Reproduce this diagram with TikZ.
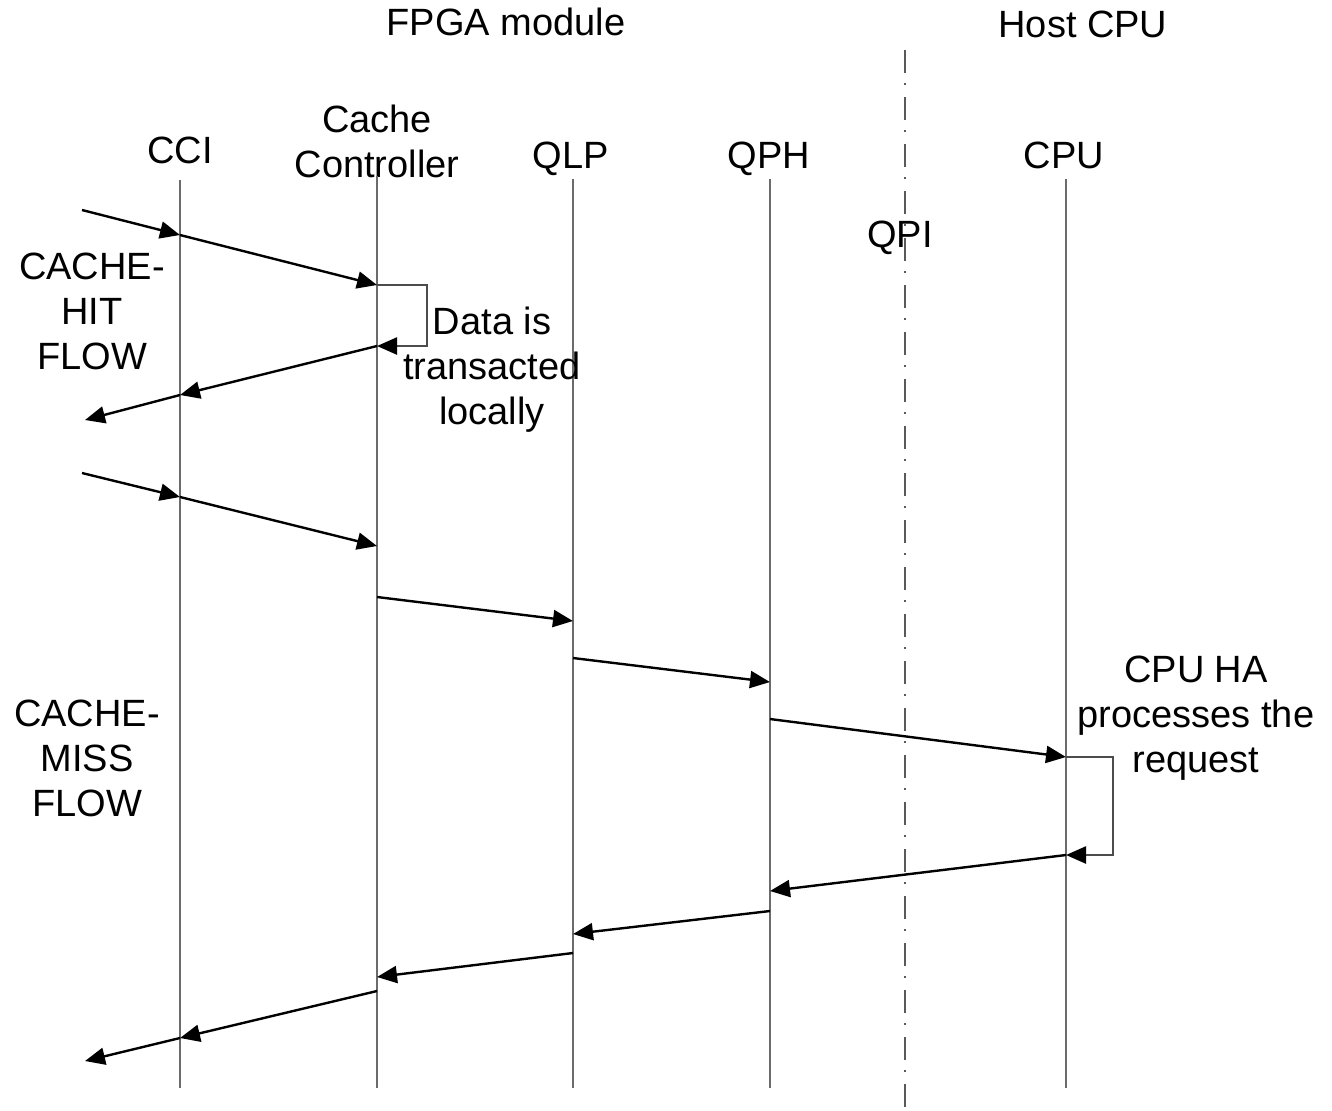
\documentclass[tikz,border=0pt]{standalone}
\usepackage{fontspec}
\setmainfont{Liberation Sans}
\usetikzlibrary{arrows.meta}
\begin{document}
\begin{tikzpicture}[x=0.5pt,y=-0.5pt,
  tip/.style={-{Triangle[length=10pt,width=8.5pt,color=black]}},
  life/.style={draw=black!58, line width=1.2pt},
  msg/.style={draw=black, line width=1.2pt, tip},
  selfloop/.style={draw=black!70, line width=1.2pt, tip},
  lbl/.style={font=\fontsize{19}{22.5}\selectfont, align=center, inner sep=0pt},
  border/.style={draw=black!65, line width=1.3pt, dash pattern=on 11.5pt off 5pt on 1pt off 6pt}
  ]
\useasboundingbox (0,0) rectangle (1332,1110);

% headings
\node[lbl] (fpga) at (506,22) {FPGA module};
\node[lbl] (host) at (1083,24) {Host CPU};

% lifeline titles
\node[lbl, anchor=base] (tcci) at (180,163) {CCI};
\node[lbl] (tcc)  at (377,141) {Cache\\Controller};
\node[lbl, anchor=base] (tqlp) at (571,168) {QLP};
\node[lbl, anchor=base] (tqph) at (769,168) {QPH};
\node[lbl, anchor=base] (tcpu) at (1064,168) {CPU};

% lifelines
\coordinate (cciT) at (180,180);  \coordinate (cciB) at (180,1088);
\coordinate (ccT)  at (377,176);  \coordinate (ccB)  at (377,1088);
\coordinate (qlpT) at (573,179);  \coordinate (qlpB) at (573,1088);
\coordinate (qphT) at (770,179);  \coordinate (qphB) at (770,1088);
\coordinate (cpuT) at (1066,179); \coordinate (cpuB) at (1066,1088);
\draw[life] (cciT) -- (cciB);
\draw[life] (ccT) -- (ccB);
\draw[life] (qlpT) -- (qlpB);
\draw[life] (qphT) -- (qphB);
\draw[life] (cpuT) -- (cpuB);

% QPI boundary
\coordinate (qpiT) at (905,50); \coordinate (qpiB) at (905,1110);
\draw[border] (qpiT) -- (qpiB);
\node[lbl, anchor=base] (qpi) at (900,247) {QPI};

% side labels
\node[lbl] (hit)  at (92,311) {CACHE-\\HIT\\FLOW};
\node[lbl] (miss) at (87,758) {CACHE-\\MISS\\FLOW};
\node[lbl] (local) at (492,370) {Data is\\transacted\\locally};
\node[lbl] (ha) at (1196,718) {CPU HA\\processes the\\request};

% cache-hit flow
\coordinate (h0) at (82,210);
\coordinate (h1) at (180,235);
\coordinate (h2) at (377,285);
\coordinate (h2r) at (427,285);
\coordinate (h3r) at (427,346);
\coordinate (h3) at (377,346);
\coordinate (h4) at (180,395);
\coordinate (h5) at (85,420);
\draw[msg] (h0) -- (h1);
\draw[msg] (h1) -- (h2);
\draw[selfloop] (h2) -- (h2r) -- (h3r) -- (h3);
\draw[msg] (h3) -- (h4);
\draw[msg] (h4) -- (h5);

% cache-miss flow
\coordinate (m0) at (82,473);
\coordinate (m1) at (180,497);
\coordinate (m2) at (377,546);
\coordinate (m3) at (377,597);
\coordinate (m4) at (573,621);
\coordinate (m5) at (573,658);
\coordinate (m6) at (770,682);
\coordinate (m7) at (770,719);
\coordinate (m8) at (1066,757);
\coordinate (m8r) at (1113,757);
\coordinate (m9r) at (1113,855);
\coordinate (m9) at (1066,855);
\coordinate (m10) at (770,891);
\coordinate (m11) at (770,911);
\coordinate (m12) at (573,934);
\coordinate (m13) at (573,953);
\coordinate (m14) at (377,977);
\coordinate (m15) at (377,991);
\coordinate (m16) at (180,1038);
\coordinate (m17) at (85,1061);
\draw[msg] (m0) -- (m1);
\draw[msg] (m1) -- (m2);
\draw[msg] (m3) -- (m4);
\draw[msg] (m5) -- (m6);
\draw[msg] (m7) -- (m8);
\draw[selfloop] (m8) -- (m8r) -- (m9r) -- (m9);
\draw[msg] (m9) -- (m10);
\draw[msg] (m11) -- (m12);
\draw[msg] (m13) -- (m14);
\draw[msg] (m15) -- (m16);
\draw[msg] (m16) -- (m17);
\end{tikzpicture}
\end{document}
